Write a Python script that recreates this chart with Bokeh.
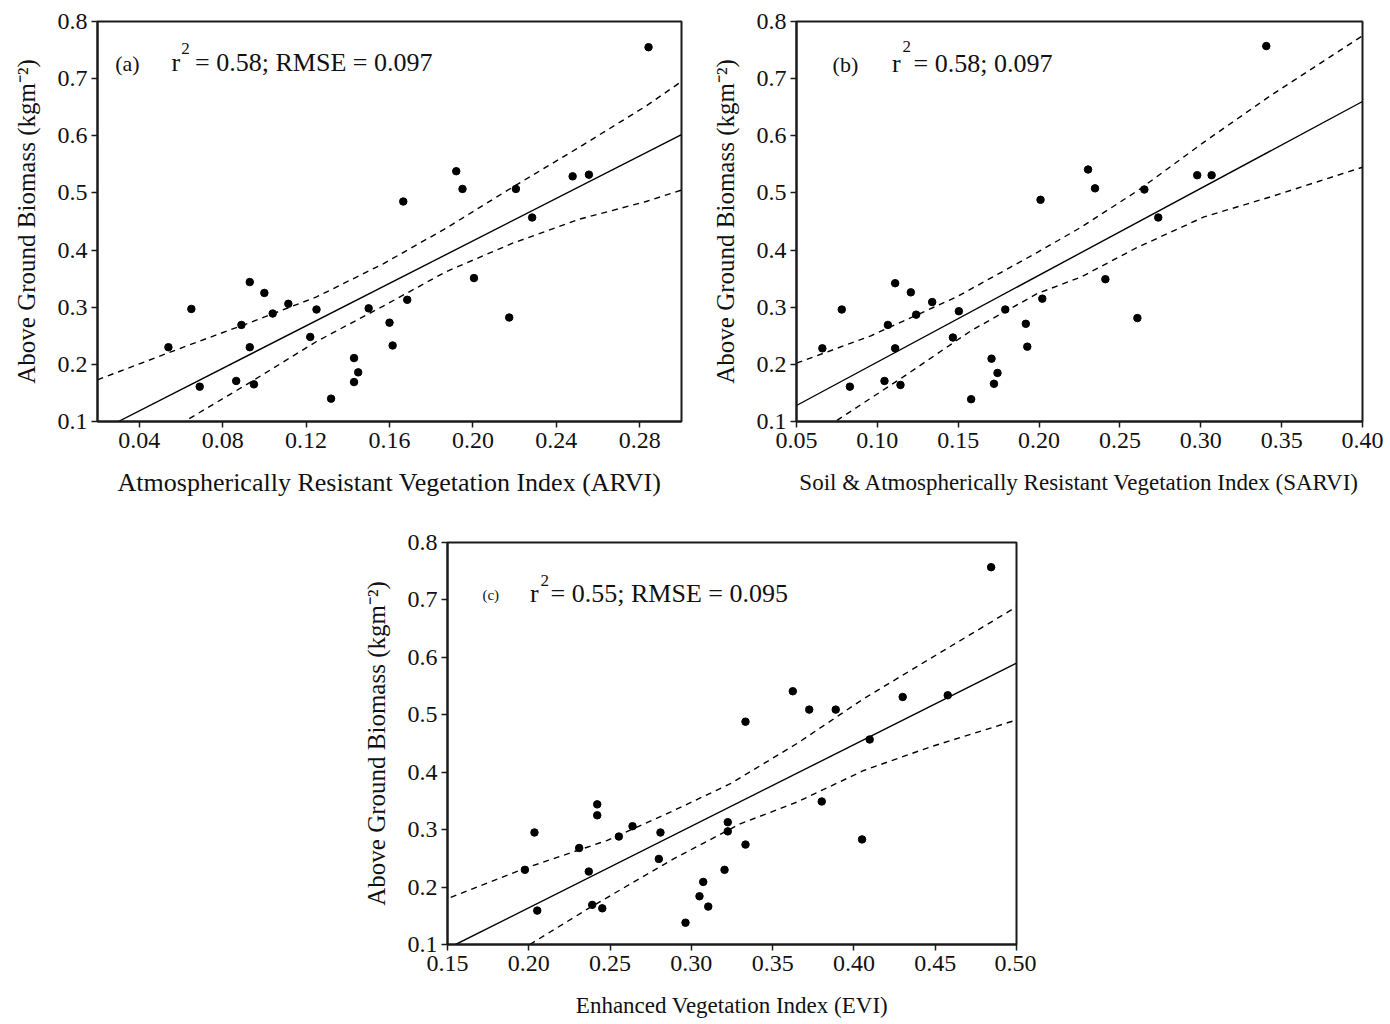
from bokeh.plotting import figure
from bokeh.layouts import column, row, Spacer
from bokeh.models import Label, FixedTicker, Range1d, NumeralTickFormatter
from bokeh.embed import file_html
from bokeh.resources import INLINE

FONT = "Liberation Serif"

# ---------------- Panel (a): ARVI ----------------
arvi = [0.054, 0.065, 0.069, 0.0865, 0.089, 0.093, 0.093, 0.095, 0.100, 0.104,
        0.1115, 0.122, 0.125, 0.132, 0.143, 0.143, 0.145, 0.150, 0.160, 0.1615,
        0.1666, 0.1685, 0.192, 0.195, 0.2005, 0.2174, 0.2206, 0.2284, 0.2478, 0.2556,
        0.2842]
agb_a = [0.230, 0.297, 0.161, 0.171, 0.269, 0.344, 0.230, 0.165, 0.325, 0.289,
         0.306, 0.248, 0.296, 0.140, 0.211, 0.169, 0.186, 0.298, 0.273, 0.233,
         0.485, 0.313, 0.538, 0.507, 0.351, 0.282, 0.507, 0.457, 0.529, 0.532,
         0.755]
fit_a_x = [0.030, 0.300]
fit_a_y = [0.100, 0.602]
up_a_x = [0.020, 0.064, 0.093, 0.125, 0.157, 0.187, 0.219, 0.251, 0.283, 0.300]
up_a_y = [0.173, 0.234, 0.273, 0.318, 0.376, 0.438, 0.510, 0.580, 0.652, 0.695]
lo_a_x = [0.064, 0.093, 0.125, 0.157, 0.187, 0.219, 0.251, 0.283, 0.300]
lo_a_y = [0.105, 0.168, 0.240, 0.302, 0.362, 0.412, 0.454, 0.485, 0.505]

# ---------------- Panel (b): SARVI ----------------
sarvi = [0.066, 0.078, 0.083, 0.1044, 0.1065, 0.111, 0.111, 0.1143, 0.1207, 0.124,
         0.1339, 0.1467, 0.1504, 0.158, 0.1706, 0.1721, 0.1743, 0.1791, 0.1918, 0.1927,
         0.2009, 0.202, 0.2303, 0.2346, 0.241, 0.2608, 0.2651, 0.2737, 0.2978, 0.3067,
         0.3405]
agb_b = [0.228, 0.296, 0.161, 0.171, 0.269, 0.342, 0.228, 0.164, 0.326, 0.287,
         0.309, 0.247, 0.293, 0.139, 0.210, 0.166, 0.185, 0.296, 0.271, 0.231,
         0.488, 0.315, 0.541, 0.508, 0.349, 0.281, 0.506, 0.457, 0.531, 0.531,
         0.757]
fit_b_x = [0.050, 0.400]
fit_b_y = [0.128, 0.660]
up_b_x = [0.050, 0.096, 0.149, 0.199, 0.226, 0.261, 0.302, 0.343, 0.400]
up_b_y = [0.202, 0.250, 0.318, 0.396, 0.440, 0.504, 0.589, 0.670, 0.775]
lo_b_x = [0.075, 0.116, 0.158, 0.199, 0.226, 0.261, 0.302, 0.343, 0.400]
lo_b_y = [0.102, 0.178, 0.259, 0.324, 0.353, 0.405, 0.458, 0.493, 0.545]

# ---------------- Panel (c): EVI ----------------
evi = [0.1976, 0.2035, 0.2052, 0.231, 0.2369, 0.239, 0.2421, 0.2421, 0.2452, 0.2554,
       0.2638, 0.280, 0.281, 0.2964, 0.305, 0.3073, 0.3104, 0.3204, 0.3224, 0.3224,
       0.3333, 0.3333, 0.3624, 0.3725, 0.3802, 0.3888, 0.405, 0.4097, 0.430, 0.4577,
       0.4844]
agb_c = [0.230, 0.295, 0.159, 0.268, 0.227, 0.169, 0.344, 0.325, 0.163, 0.288,
         0.306, 0.249, 0.295, 0.138, 0.184, 0.209, 0.166, 0.230, 0.313, 0.297,
         0.488, 0.274, 0.541, 0.509, 0.349, 0.509, 0.283, 0.457, 0.531, 0.534,
         0.757]
fit_c_x = [0.155, 0.500]
fit_c_y = [0.100, 0.590]
up_c_x = [0.152, 0.197, 0.248, 0.289, 0.324, 0.365, 0.406, 0.447, 0.500]
up_c_y = [0.182, 0.232, 0.281, 0.333, 0.380, 0.450, 0.528, 0.598, 0.688]
lo_c_x = [0.2006, 0.238, 0.289, 0.330, 0.365, 0.406, 0.447, 0.500]
lo_c_y = [0.100, 0.165, 0.249, 0.310, 0.348, 0.403, 0.444, 0.491]

y_ticks = [0.1, 0.2, 0.3, 0.4, 0.5, 0.6, 0.7, 0.8]
x_ticks_a = [0.04, 0.08, 0.12, 0.16, 0.20, 0.24, 0.28]
x_ticks_b = [0.05, 0.10, 0.15, 0.20, 0.25, 0.30, 0.35, 0.40]
x_ticks_c = [0.15, 0.20, 0.25, 0.30, 0.35, 0.40, 0.45, 0.50]

Y_LABEL = "Above Ground Biomass (kgm\u207b\u00b2)"


def panel(xs, ys, fx, fy, ux, uy, lx, ly, xr, xticks, xlabel, xlabel_size, xlabel_standoff,
          fw, fh, bl, br, bt, bb, tag, tag_xy, tag_size, ann, r_xy, two_xy, ann_xy):
    p = figure(frame_width=fw, frame_height=fh,
               x_range=Range1d(*xr), y_range=Range1d(0.1, 0.8),
               output_backend="svg", toolbar_location=None,
               min_border_left=bl, min_border_right=br,
               min_border_top=bt, min_border_bottom=bb,
               background_fill_color="white", border_fill_color="white")
    p.grid.visible = False
    p.outline_line_color = "#1a1a1a"
    p.outline_line_width = 2
    p.outline_line_alpha = 1.0
    for ax in (p.xaxis[0], p.yaxis[0]):
        ax.axis_line_color = "#1a1a1a"
        ax.axis_line_width = 2
        ax.major_tick_out = 6
        ax.major_tick_in = 0
        ax.major_tick_line_width = 1.5
        ax.major_tick_line_color = "#1a1a1a"
        ax.minor_tick_line_color = None
        ax.major_label_text_font = FONT
        ax.major_label_text_font_size = "24px"
        ax.major_label_text_color = "#111111"
        ax.axis_label_text_font = FONT
        ax.axis_label_text_font_style = "normal"
        ax.axis_label_text_color = "#111111"
    p.xaxis.ticker = FixedTicker(ticks=xticks)
    p.xaxis.formatter = NumeralTickFormatter(format="0.00")
    p.yaxis.ticker = FixedTicker(ticks=y_ticks)
    p.yaxis.formatter = NumeralTickFormatter(format="0.0")
    p.xaxis.major_label_standoff = 5
    p.yaxis.major_label_standoff = 4
    p.xaxis.axis_label = xlabel
    p.xaxis.axis_label_text_font_size = xlabel_size
    p.xaxis.axis_label_standoff = xlabel_standoff
    p.yaxis.axis_label = Y_LABEL
    p.yaxis.axis_label_text_font_size = "25px"
    p.yaxis.axis_label_standoff = 15

    p.line(fx, fy, line_color="black", line_width=1.4)
    p.line(ux, uy, line_color="black", line_width=1.4, line_dash="6 5")
    p.line(lx, ly, line_color="black", line_width=1.4, line_dash="6 5")
    p.scatter(xs, ys, marker="circle", size=7.5, fill_color="black", line_color="black")

    p.add_layout(Label(x=tag_xy[0], y=tag_xy[1], text=tag, text_font=FONT,
                       text_font_size=tag_size, text_baseline="middle", text_align="left",
                       text_color="#111111"))
    p.add_layout(Label(x=r_xy[0], y=r_xy[1], text="r", text_font=FONT,
                       text_font_size="26px", text_baseline="middle", text_align="left",
                       text_color="#111111"))
    p.add_layout(Label(x=two_xy[0], y=two_xy[1], text="2", text_font=FONT,
                       text_font_size="17px", text_baseline="middle", text_align="left",
                       text_color="#111111"))
    p.add_layout(Label(x=ann_xy[0], y=ann_xy[1], text=ann, text_font=FONT,
                       text_font_size="26px", text_baseline="middle", text_align="left",
                       text_color="#111111"))
    return p


pa = panel(arvi, agb_a, fit_a_x, fit_a_y, up_a_x, up_a_y, lo_a_x, lo_a_y,
           (0.02, 0.30), x_ticks_a, "Atmospherically Resistant Vegetation Index (ARVI)", "26px", 17,
           584, 400, 97, 18, 20, 102,
           "(a)", (0.0285, 0.727), "22px", "= 0.58; RMSE = 0.097",
           (0.0555, 0.728), (0.0601, 0.752), (0.0668, 0.728))

pb = panel(sarvi, agb_b, fit_b_x, fit_b_y, up_b_x, up_b_y, lo_b_x, lo_b_y,
           (0.05, 0.40), x_ticks_b, "Soil & Atmospherically Resistant Vegetation Index (SARVI)", "23px", 19,
           566, 400, 97, 28, 21, 101,
           "(b)", (0.0723, 0.724), "22px", "= 0.58; 0.097",
           (0.109, 0.727), (0.1156, 0.757), (0.1224, 0.727))

pc = panel(evi, agb_c, fit_c_x, fit_c_y, up_c_x, up_c_y, lo_c_x, lo_c_y,
           (0.15, 0.50), x_ticks_c, "Enhanced Vegetation Index (EVI)", "23px", 19,
           569, 402, 97, 20, 20, 80,
           "(c)", (0.1715, 0.708), "15px", "= 0.55; RMSE = 0.095",
           (0.2008, 0.711), (0.2072, 0.733), (0.2134, 0.711))

layout = column(row(pa, pb), row(Spacer(width=350, height=502), pc))

open("out.html", "w").write(file_html(layout, INLINE))
